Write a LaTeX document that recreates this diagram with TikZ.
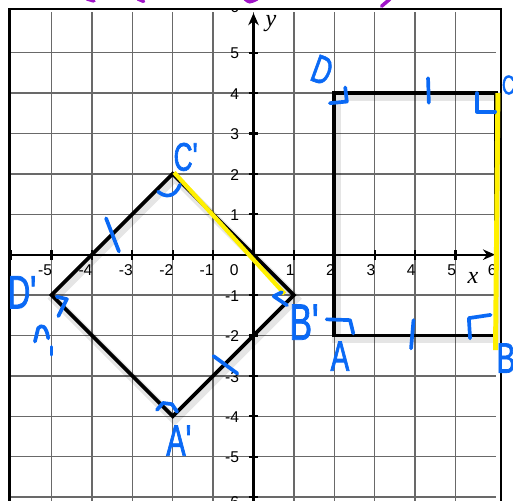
\documentclass[tikz,border=0pt]{standalone}
\usepackage{fontspec}
\setmainfont{Liberation Sans}
\newfontfamily\handfont[FakeStretch=0.66,FakeBold=1.6]{Liberation Sans}
\newfontfamily\axisfont{Liberation Serif}
\usetikzlibrary{arrows.meta}
\definecolor{penblue}{RGB}{10,105,245}
\definecolor{marker}{RGB}{255,240,0}
\definecolor{plum}{RGB}{160,20,200}
\definecolor{gridgray}{RGB}{105,105,105}
\tikzset{
  >={Stealth[length=3mm,width=2.6mm]},
  grid line/.style={draw=gridgray,line width=1pt},
  axis/.style={draw=black,line width=1.5pt},
  num/.style={font=\fontsize{11}{11}\selectfont,inner sep=0pt},
  varname/.style={font=\axisfont\itshape\fontsize{17}{17}\selectfont,inner sep=0pt},
  figure/.style={draw=black,line width=2.6pt,line join=miter},
  shade line/.style={draw=black,opacity=0.1,line width=6pt},
  highlight/.style={draw=marker,line width=#1},
  highlight/.default=3pt,
  pen/.style={draw=penblue,line width=2.6pt,line cap=round,line join=round},
  scrawl/.style={draw=plum,line width=2.5pt,line cap=round},
  hand/.style={text=penblue,inner sep=0pt,font=\handfont\fontsize{#1}{#1}\selectfont},
  hand/.default=28,
}

\begin{document}
\begin{tikzpicture}
  \useasboundingbox (-6.275,-6.072) rectangle (6.423,6.304);
  % grid, axes and numbers inside the frame
  \begin{scope}
    \clip (-6.05,-6.3) rectangle (6.126,6.082);
    \foreach \i in {-5,...,5} \draw[grid line] (\i,-6.3) -- (\i,6);
    \foreach \i in {-6,...,5} \draw[grid line] (-6,\i) -- (6,\i);
    \draw[axis,->] (0,-6.3) -- (0,5.98);
    \draw[axis,->] (-6.05,0) -- (5.98,0);
    \foreach \i in {-6,...,-1,1,2,...,5} {
      \draw[axis] (-0.12,\i) -- (0.12,\i);
      \draw[axis] (\i,-0.12) -- (\i,0.12);
    }
    \foreach \i in {-5,...,-1,1,2,...,6}
      \node[num,anchor=north east] (xl\i) at (\i+0.02,-0.24) {\i};
    \node[num,anchor=north east] (xl0) at (-0.36,-0.24) {0};
    \foreach \i in {-5,...,-1,1,2,...,5}
      \node[num,anchor=east] (yl\i) at (-0.35,\i-0.02) {\i};
    \node[num,anchor=east] (yl6) at (-0.35,6.13) {6};
    \node[num,anchor=east] (yl-6) at (-0.35,-6.12) {-6};
    \node[varname] (ylab) at (0.43,5.73) {y};
    \node[varname] (xlab) at (5.43,-0.58) {x};
  \end{scope}
  \draw[line width=2pt] (-6.05,-6.4) -- (-6.05,6.082) -- (6.126,6.082) -- (6.126,-6.4);

  % the two figures
  \coordinate (Ap) at (-2,-4);
  \coordinate (Bp) at (1,-1);
  \coordinate (Cp) at (-2,2);
  \coordinate (Dp) at (-5,-1);
  \coordinate (A) at (2,-2);
  \coordinate (B) at (6,-2);
  \coordinate (C) at (6,4);
  \coordinate (D) at (2,4);
  \draw[shade line,transform canvas={shift={(0.05,-0.09)}}] (Ap) -- (Bp) -- (Cp) -- (Dp) -- cycle;
  \draw[shade line,transform canvas={shift={(0.05,-0.09)}}] (A) -- (B) -- (C) -- (D) -- cycle;
  \draw[figure] (Ap) -- (Bp) -- (Cp) -- (Dp) -- cycle;
  \draw[figure] (A) -- (B) -- (C) -- (D) -- cycle;

  % yellow marker
  \coordinate (Bpy) at (0.77,-0.97);
  \coordinate (Ctop) at (6.05,4.0);
  \coordinate (Bbot) at (5.99,-2.36);
  \draw[highlight] ([shift={(0.035,0.035)}]Cp) -- (Bpy);
  \draw[highlight=3.5pt] (Ctop) -- (Bbot);

  % pen marks
  \draw[pen] (-2.36,1.56) .. controls (-2.2,1.42) and (-1.95,1.4) .. (-1.82,1.73);
  \draw[pen] (-3.65,0.9) -- (-3.33,0.08);
  \draw[pen] (-4.87,-1.04) -- (-4.62,-1.10) -- (-4.83,-1.52);
  \draw[pen] (-5.41,-2.15) -- (-5.33,-1.82) .. controls (-5.25,-1.72) and (-5.13,-1.75) .. (-5.08,-2.07);
  \draw[pen] (-5.0,-2.28) -- (-5.0,-2.48);
  \draw[pen] (-2.39,-3.84) -- (-2.24,-3.67) -- (-2.02,-3.70) -- (-1.89,-3.89);
  \draw[pen] (-0.99,-2.51) -- (-0.40,-2.94);
  \draw[pen] (0.70,-0.93) -- (0.50,-1.03) -- (0.83,-1.25);
  \draw[pen] (1.89,3.75) -- (2.31,3.79) -- (2.27,4.14);
  \draw[pen] (4.32,4.37) -- (4.34,3.76);
  \draw[pen] (5.53,4.0) -- (5.53,3.54) -- (5.98,3.54);
  \draw[pen] (1.81,-1.60) -- (2.39,-1.62) -- (2.47,-1.95);
  \draw[pen] (3.96,-1.62) -- (3.90,-2.32);
  \draw[pen] (5.36,-2.07) -- (5.33,-1.57) -- (5.87,-1.49);

  \node[hand=28] (Cpl) at (-1.68,2.42) {C'};
  \node[hand=33] (Dpl) at (-5.73,-0.93) {D'};
  \node[hand=31] (Apl) at (-1.85,-4.6) {A'};
  \node[hand=36] (Bpl) at (1.25,-1.67) {B'};
  \node[hand=30] (Al) at (2.14,-2.51) {A};
  \node[hand=30] (Bl) at (6.25,-2.56) {B};
  \node[hand=19] (Cl) at (6.31,4.2) {C};
  \node[hand=28,rotate=-20] (Dl) at (1.70,4.57) {D};

  % cut-off purple writing at the top
  \draw[scrawl] (-4.12,6.33) -- (-3.95,6.28);
  \draw[scrawl] (-2.86,6.33) -- (-2.72,6.27);
  \draw[scrawl] (-0.21,6.33) .. controls (-0.1,6.24) .. (0.09,6.33);
  \draw[scrawl] (3.38,6.33) -- (3.17,6.15);
\end{tikzpicture}
\end{document}
